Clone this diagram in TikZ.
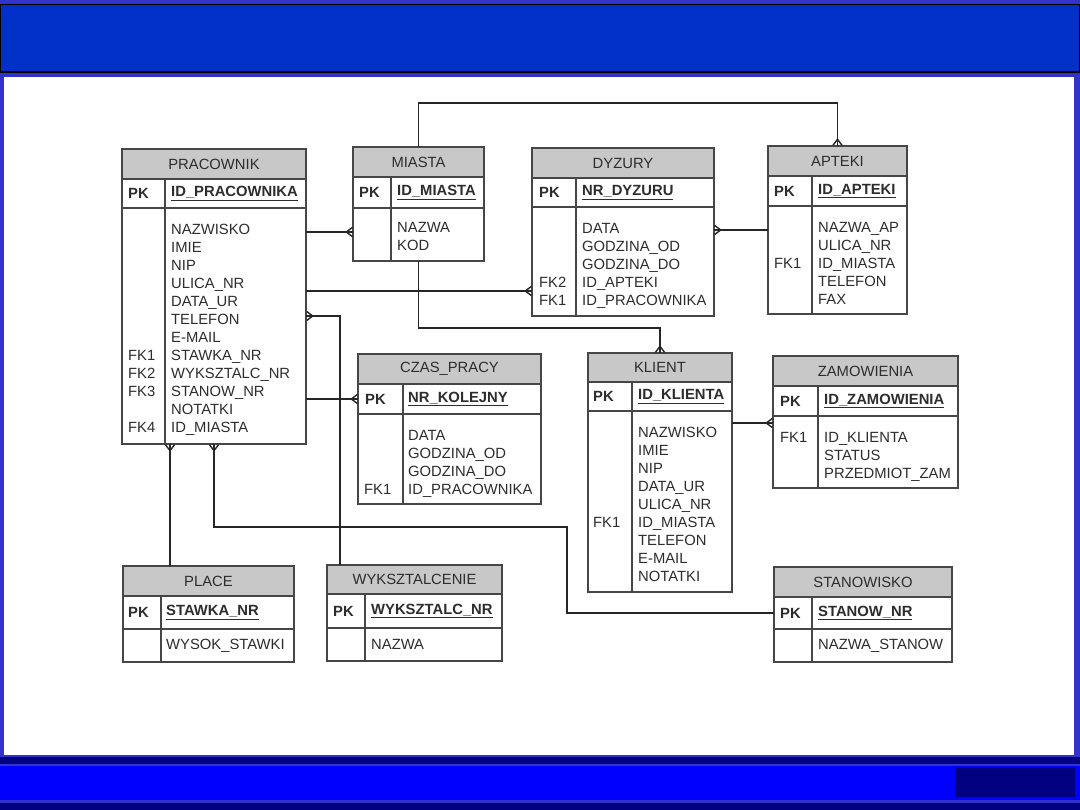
\documentclass[tikz,border=0pt]{standalone}
\usepackage{fontspec}
\setmainfont{Liberation Sans}
\usetikzlibrary{positioning,arrows.meta}
\definecolor{frame}{RGB}{51,51,204}
\definecolor{band}{RGB}{0,48,200}
\definecolor{foot}{RGB}{0,0,255}
\definecolor{navy}{RGB}{0,0,128}
\definecolor{headgray}{RGB}{200,200,200}
\definecolor{ink}{RGB}{45,45,45}
\definecolor{edge}{RGB}{70,70,70}
\newcommand{\cols}[1]{\begin{tabular}{@{}l@{}}#1\end{tabular}}
\begin{document}
\begin{tikzpicture}[x=1pt,y=-1pt,
    font=\fontsize{14.8}{18}\selectfont,
    tab/.style={draw=edge, line width=1.2pt},
    head/.style={tab, fill=headgray, anchor=north west, minimum height=30pt, inner sep=0pt, outer sep=0pt, text=ink},
    keyrow/.style={tab, fill=white, minimum height=30pt, inner sep=0pt, outer sep=0pt},
    body/.style={tab, fill=white, inner sep=0pt, outer sep=0pt},
    pktxt/.style={anchor=west, inner sep=0pt, text=ink, font=\fontsize{14.8}{18}\selectfont\bfseries},
    fld/.style={anchor=north west, inner sep=0pt, text=ink},
    link/.style={draw=black!85, line width=1.6pt, postaction={draw=black!85, line width=1.6pt, -}},
    crow/.tip={Straight Barb[reversed, length=6pt, width=9pt, line width=1.4pt]}]
    \useasboundingbox (0,0) rectangle (1080,810);
    % slide frame
    \fill[frame] (0,0) rectangle (1080,810);
    \fill[black] (0,4) rectangle (1080,73);
    \fill[band] (1,5) rectangle (1079,71);
    \fill[white] (4,77) rectangle (1074,755);
    \fill[navy] (0,757) rectangle (1080,764);
    \fill[foot] (0,766) rectangle (1080,800);
    \fill[navy] (0,803) rectangle (1080,810);
    \fill[navy] (955,767) rectangle (1075,797);

    % PRACOWNIK
    \node[head, minimum width=184pt] (prac) at (122,149) {PRACOWNIK};
    \node[keyrow, minimum width=184pt, minimum height=29pt, below=0pt of prac] (pracK) {};
    \node[body, minimum width=184pt, minimum height=236pt, below=0pt of pracK] (pracB) {};
    \draw[tab] ([xshift=43pt]pracK.north west) -- ([xshift=43pt]pracB.south west);
    \node[pktxt] (pracPK) at ([xshift=6pt]pracK.west) {PK};
    \node[pktxt] (pracID) at ([xshift=49pt]pracK.west) {\underline{ID\_PRACOWNIKA}};
    \node[fld] (pracFK) at ([xshift=6pt,yshift=-13.7pt]pracB.north west)
        {\cols{\\ \\ \\ \\ \\ \\ \\ FK1\\ FK2\\ FK3\\ \\ FK4}};
    \node[fld] (pracF) at ([xshift=49pt,yshift=-13.7pt]pracB.north west)
        {\cols{NAZWISKO\\ IMIE\\ NIP\\ ULICA\_NR\\ DATA\_UR\\ TELEFON\\ E-MAIL\\ STAWKA\_NR\\ WYKSZTALC\_NR\\ STANOW\_NR\\ NOTATKI\\ ID\_MIASTA}};

    % MIASTA
    \node[head, minimum width=131pt] (miasta) at (353,147) {MIASTA};
    \node[keyrow, minimum width=131pt, minimum height=31pt, below=0pt of miasta] (miastaK) {};
    \node[body, minimum width=131pt, minimum height=53pt, below=0pt of miastaK] (miastaB) {};
    \draw[tab] ([xshift=38pt]miastaK.north west) -- ([xshift=38pt]miastaB.south west);
    \node[pktxt] (miastaPK) at ([xshift=6pt]miastaK.west) {PK};
    \node[pktxt] (miastaID) at ([xshift=44pt]miastaK.west) {\underline{ID\_MIASTA}};
    \node[fld] (miastaF) at ([xshift=44pt,yshift=-11.7pt]miastaB.north west) {\cols{NAZWA\\ KOD}};

    % DYZURY
    \node[head, minimum width=182pt] (dyz) at (532,148) {DYZURY};
    \node[keyrow, minimum width=182pt, minimum height=29pt, below=0pt of dyz] (dyzK) {};
    \node[body, minimum width=182pt, minimum height=109pt, below=0pt of dyzK] (dyzB) {};
    \draw[tab] ([xshift=44pt]dyzK.north west) -- ([xshift=44pt]dyzB.south west);
    \node[pktxt] (dyzPK) at ([xshift=7pt]dyzK.west) {PK};
    \node[pktxt] (dyzID) at ([xshift=50pt]dyzK.west) {\underline{NR\_DYZURU}};
    \node[fld] (dyzFK) at ([xshift=7pt,yshift=-13.7pt]dyzB.north west) {\cols{\\ \\ \\ FK2\\ FK1}};
    \node[fld] (dyzF) at ([xshift=50pt,yshift=-13.7pt]dyzB.north west)
        {\cols{DATA\\ GODZINA\_OD\\ GODZINA\_DO\\ ID\_APTEKI\\ ID\_PRACOWNIKA}};

    % APTEKI
    \node[head, minimum width=139pt] (apt) at (768,146) {APTEKI};
    \node[keyrow, minimum width=139pt, below=0pt of apt] (aptK) {};
    \node[body, minimum width=139pt, minimum height=108pt, below=0pt of aptK] (aptB) {};
    \draw[tab] ([xshift=44pt]aptK.north west) -- ([xshift=44pt]aptB.south west);
    \node[pktxt] (aptPK) at ([xshift=6pt]aptK.west) {PK};
    \node[pktxt] (aptID) at ([xshift=50pt]aptK.west) {\underline{ID\_APTEKI}};
    \node[fld] (aptFK) at ([xshift=6pt,yshift=-13.7pt]aptB.north west) {\cols{\\ \\ FK1}};
    \node[fld] (aptF) at ([xshift=50pt,yshift=-13.7pt]aptB.north west)
        {\cols{NAZWA\_AP\\ ULICA\_NR\\ ID\_MIASTA\\ TELEFON\\ FAX}};

    % CZAS_PRACY
    \node[head, minimum width=183pt] (czas) at (358,354) {CZAS\_PRACY};
    \node[keyrow, minimum width=183pt, below=0pt of czas] (czasK) {};
    \node[body, minimum width=183pt, minimum height=90pt, below=0pt of czasK] (czasB) {};
    \draw[tab] ([xshift=45pt]czasK.north west) -- ([xshift=45pt]czasB.south west);
    \node[pktxt] (czasPK) at ([xshift=7pt]czasK.west) {PK};
    \node[pktxt] (czasID) at ([xshift=50pt]czasK.west) {\underline{NR\_KOLEJNY}};
    \node[fld] (czasFK) at ([xshift=6pt,yshift=-13.7pt]czasB.north west) {\cols{\\ \\ \\ FK1}};
    \node[fld] (czasF) at ([xshift=50pt,yshift=-13.7pt]czasB.north west)
        {\cols{DATA\\ GODZINA\_OD\\ GODZINA\_DO\\ ID\_PRACOWNIKA}};

    % KLIENT
    \node[head, minimum width=144pt, minimum height=29pt] (klient) at (588,353) {KLIENT};
    \node[keyrow, minimum width=144pt, minimum height=29pt, below=0pt of klient] (klientK) {};
    \node[body, minimum width=144pt, minimum height=181pt, below=0pt of klientK] (klientB) {};
    \draw[tab] ([xshift=44pt]klientK.north west) -- ([xshift=44pt]klientB.south west);
    \node[pktxt] (klientPK) at ([xshift=5pt]klientK.west) {PK};
    \node[pktxt] (klientID) at ([xshift=50pt]klientK.west) {\underline{ID\_KLIENTA}};
    \node[fld] (klientFK) at ([xshift=5pt,yshift=-13.7pt]klientB.north west) {\cols{\\ \\ \\ \\ \\ FK1}};
    \node[fld] (klientF) at ([xshift=50pt,yshift=-13.7pt]klientB.north west)
        {\cols{NAZWISKO\\ IMIE\\ NIP\\ DATA\_UR\\ ULICA\_NR\\ ID\_MIASTA\\ TELEFON\\ E-MAIL\\ NOTATKI}};

    % ZAMOWIENIA
    \node[head, minimum width=185pt] (zam) at (773,356) {ZAMOWIENIA};
    \node[keyrow, minimum width=185pt, below=0pt of zam] (zamK) {};
    \node[body, minimum width=185pt, minimum height=72pt, below=0pt of zamK] (zamB) {};
    \draw[tab] ([xshift=45pt]zamK.north west) -- ([xshift=45pt]zamB.south west);
    \node[pktxt] (zamPK) at ([xshift=7pt]zamK.west) {PK};
    \node[pktxt] (zamID) at ([xshift=51pt]zamK.west) {\underline{ID\_ZAMOWIENIA}};
    \node[fld] (zamFK) at ([xshift=7pt,yshift=-13.7pt]zamB.north west) {\cols{FK1}};
    \node[fld] (zamF) at ([xshift=51pt,yshift=-13.7pt]zamB.north west)
        {\cols{ID\_KLIENTA\\ STATUS\\ PRZEDMIOT\_ZAM}};

    % STANOWISKO
    \node[head, minimum width=178pt] (stan) at (774,567) {STANOWISKO};
    \node[keyrow, minimum width=178pt, minimum height=32pt, below=0pt of stan] (stanK) {};
    \node[body, minimum width=178pt, minimum height=33pt, below=0pt of stanK] (stanB) {};
    \draw[tab] ([xshift=38pt]stanK.north west) -- ([xshift=38pt]stanB.south west);
    \node[pktxt] (stanPK) at ([xshift=6pt]stanK.west) {PK};
    \node[pktxt] (stanID) at ([xshift=44pt]stanK.west) {\underline{STANOW\_NR}};
    \node[fld, anchor=west] (stanF) at ([xshift=44pt]stanB.west) {NAZWA\_STANOW};

    % PLACE
    \node[head, minimum width=171pt] (place) at (123,566) {PLACE};
    \node[keyrow, minimum width=171pt, minimum height=33pt, below=0pt of place] (placeK) {};
    \node[body, minimum width=171pt, minimum height=33pt, below=0pt of placeK] (placeB) {};
    \draw[tab] ([xshift=38pt]placeK.north west) -- ([xshift=38pt]placeB.south west);
    \node[pktxt] (placePK) at ([xshift=5pt]placeK.west) {PK};
    \node[pktxt] (placeID) at ([xshift=43pt]placeK.west) {\underline{STAWKA\_NR}};
    \node[fld, anchor=west] (placeF) at ([xshift=43pt]placeB.west) {WYSOK\_STAWKI};

    % WYKSZTALCENIE
    \node[head, minimum width=175pt, minimum height=29pt] (wyk) at (327,565) {WYKSZTALCENIE};
    \node[keyrow, minimum width=175pt, minimum height=34pt, below=0pt of wyk] (wykK) {};
    \node[body, minimum width=175pt, minimum height=33pt, below=0pt of wykK] (wykB) {};
    \draw[tab] ([xshift=38pt]wykK.north west) -- ([xshift=38pt]wykB.south west);
    \node[pktxt] (wykPK) at ([xshift=6pt]wykK.west) {PK};
    \node[pktxt] (wykID) at ([xshift=44pt]wykK.west) {\underline{WYKSZTALC\_NR}};
    \node[fld, anchor=west] (wykF) at ([xshift=44pt]wykB.west) {NAZWA};

    % relationships
    \draw[link, -crow] (pracB.east |- 0,232) -- (miastaB.west |- 0,232);
    \draw[link, -crow] (pracB.east |- 0,291) -- (dyzB.west |- 0,291);
    \draw[link, crow-] (dyzB.east |- 0,230) -- (aptB.west |- 0,230);
    \draw[link, -crow] (miasta.north) -- ++(0,-44) -| (apt.north);
    \draw[link, -crow] (miastaB.south) |- (klient.north |- 0,328) -- (klient.north);
    \draw[link, crow-] (pracB.east |- 0,316) -| (wyk.north -| 340,0);
    \draw[link, -crow] (pracB.east |- czasK.west) -- (czasK.west);
    \draw[link, crow-] (pracB.south -| 170,0) -- (place.north -| 170,0);
    \draw[link, crow-] (pracB.south) |- (567,527) |- (stanK.west);
    \draw[link, -crow] (klientB.east |- 0,423) -- (zamB.west |- 0,423);
\end{tikzpicture}
\end{document}
